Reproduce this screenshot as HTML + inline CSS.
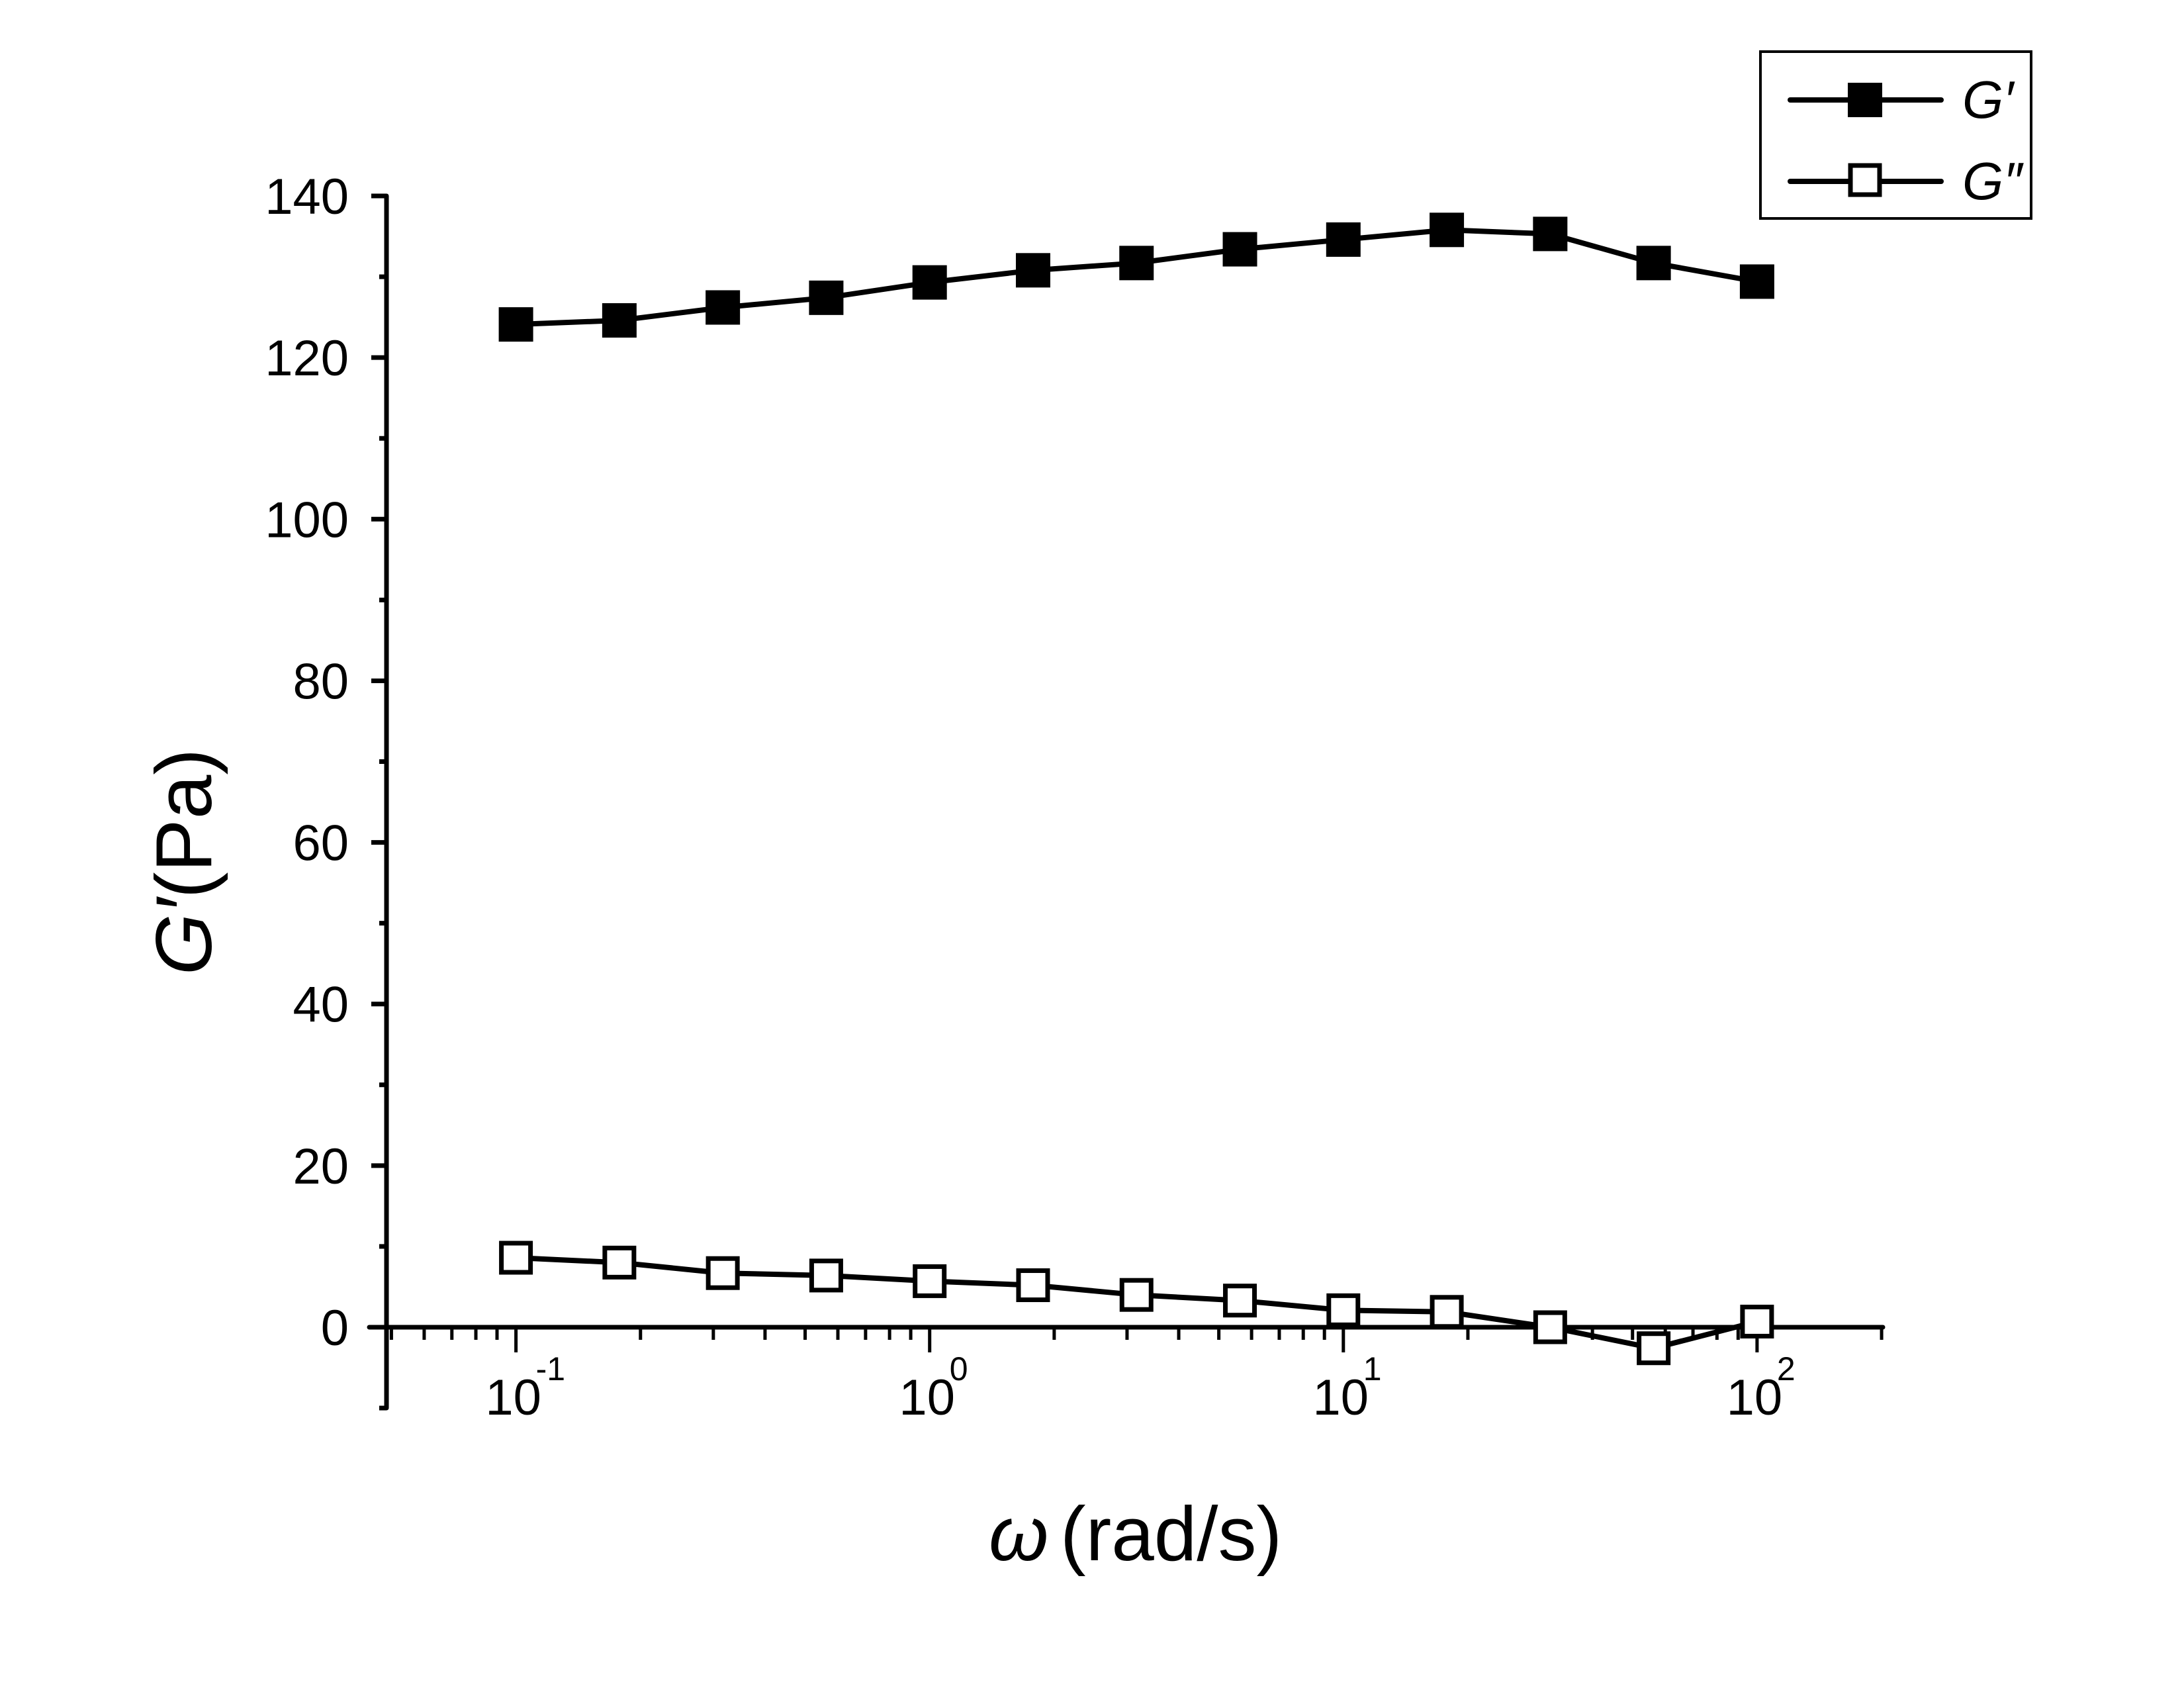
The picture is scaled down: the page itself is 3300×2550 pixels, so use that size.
<!DOCTYPE html>
<html><head><meta charset="utf-8"><style>
html,body{margin:0;padding:0;background:#fff}
svg{display:block}
text{font-family:"Liberation Sans",sans-serif;fill:#000}
</style></head><body>
<svg width="3300" height="2550" viewBox="0 0 3300 2550" xmlns="http://www.w3.org/2000/svg">
<g id="axes" stroke="#000" stroke-width="7" fill="none" stroke-linecap="round">
<line x1="584" y1="296" x2="584" y2="2127"/>
<line x1="558" y1="2005" x2="2845" y2="2005"/>
</g>
<g id="yt" stroke="#000" stroke-width="7"></g>
<g id="xt" stroke="#000" stroke-width="5"></g>
<g id="yl" font-size="76" text-anchor="end"></g>
<g id="xl" text-anchor="middle"></g>
<text x="1494" y="2357" font-size="116" font-family="Liberation Serif,serif" font-style="italic">ω</text>
<text x="1602" y="2357" font-size="116">(rad/s)</text>
<text transform="translate(319,1302) rotate(-90)" font-size="120" text-anchor="middle"><tspan font-style="italic">G′</tspan>(Pa)</text>
<polyline id="l1" fill="none" stroke="#000" stroke-width="8"/>
<polyline id="l2" fill="none" stroke="#000" stroke-width="8"/>
<g id="m"></g>
<rect x="2660" y="78" width="409" height="252" fill="none" stroke="#000" stroke-width="4"/>
<line x1="2705" y1="151" x2="2933" y2="151" stroke="#000" stroke-width="8" stroke-linecap="round"/>
<line x1="2705" y1="274" x2="2933" y2="274" stroke="#000" stroke-width="8" stroke-linecap="round"/>
<rect x="2792" y="125" width="52" height="52" fill="#000"/>
<rect x="2796" y="250" width="44" height="44" fill="#fff" stroke="#000" stroke-width="7"/>
<text x="2965" y="178" font-size="80" font-style="italic">G′</text>
<text x="2965" y="301" font-size="80" font-style="italic">G″</text>
<script>
var ns="http://www.w3.org/2000/svg";
function el(p,t,a,txt){var e=document.createElementNS(ns,t);for(var k in a)e.setAttribute(k,a[k]);if(txt!=null)e.textContent=txt;document.getElementById(p).appendChild(e);return e;}
function Y(v){return 2005-v*12.207;}
function X(lg){return 779.6+(lg+1)*625.1;}
for(var v=-10;v<=140;v+=10){var maj=v%20==0;el("yt","line",{x1:maj?561:573,y1:Y(v),x2:584,y2:Y(v)});
 if(maj&&v>=0)el("yl","text",{x:527,y:Y(v)+27},String(v));}
for(var d=-2;d<=2;d++){for(var k=1;k<10;k++){var lg=d+Math.log10(k);var x=X(lg);if(x<588||x>2848)continue;
 el("xt","line",{x1:x,y1:2005,x2:x,y2:k==1?2043:2024});}}
for(var d=-1;d<=2;d++){var x=X(d);el("xl","text",{x:x-4,y:2137,"font-size":76},"10");
 el("xl","text",{x:x+30,y:2085,"font-size":50,"text-anchor":"start"},d<0?"-1":String(d));}
var g1=[124.1,124.6,126.2,127.4,129.3,130.8,131.7,133.4,134.6,135.8,135.3,131.7,129.4];
var g2=[8.6,8.0,6.7,6.4,5.7,5.2,4.0,3.3,2.1,1.9,0,-2.6,0.7];
var p1=[],p2=[];
for(var i=0;i<13;i++){var x=X(-1+i*0.25);p1.push(x+","+Y(g1[i]));p2.push(x+","+Y(g2[i]));}
document.getElementById("l1").setAttribute("points",p1.join(" "));
document.getElementById("l2").setAttribute("points",p2.join(" "));
for(var i=0;i<13;i++){var x=X(-1+i*0.25);
 el("m","rect",{x:x-26,y:Y(g1[i])-26,width:52,height:52,fill:"#000"});
 el("m","rect",{x:x-22,y:Y(g2[i])-22,width:44,height:44,fill:"#fff",stroke:"#000","stroke-width":7});}
</script>
</svg>
</body></html>
